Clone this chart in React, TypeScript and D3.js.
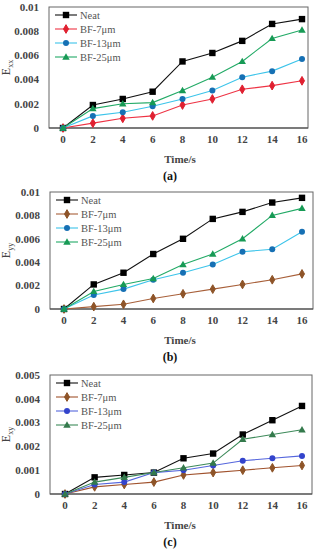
import React from "react";
import * as d3 from "d3";

const times = [0, 2, 4, 6, 8, 10, 12, 14, 16];
const seriesNames = ["Neat", "BF-7μm", "BF-13μm", "BF-25μm"];

const exxNeat = [0, 0.0019, 0.0024, 0.003, 0.0055, 0.0062, 0.0072, 0.0086, 0.009];
const exx7 = [0, 0.0004, 0.0008, 0.001, 0.0019, 0.0024, 0.0032, 0.0035, 0.0039];
const exx13 = [0, 0.001, 0.0013, 0.0018, 0.0024, 0.0031, 0.0042, 0.0047, 0.0057];
const exx25 = [0, 0.0016, 0.002, 0.0021, 0.0031, 0.0042, 0.0055, 0.0074, 0.0081];

const eyyNeat = [0, 0.0021, 0.0031, 0.0047, 0.006, 0.0077, 0.0083, 0.0091, 0.0095];
const eyy7 = [0, 0.0002, 0.0004, 0.0009, 0.0013, 0.0017, 0.0021, 0.0025, 0.003];
const eyy13 = [0, 0.0012, 0.0017, 0.0025, 0.0031, 0.0038, 0.0049, 0.0051, 0.0066];
const eyy25 = [0, 0.0015, 0.0021, 0.0026, 0.0038, 0.0047, 0.006, 0.008, 0.0086];

const exyNeat = [0, 0.0007, 0.0008, 0.0009, 0.0015, 0.0017, 0.0025, 0.0031, 0.0037];
const exy7 = [0, 0.0003, 0.0004, 0.0005, 0.0008, 0.0009, 0.001, 0.0011, 0.0012];
const exy13 = [0, 0.0004, 0.0005, 0.0009, 0.001, 0.0012, 0.0014, 0.0015, 0.0016];
const exy25 = [0, 0.0005, 0.0007, 0.0009, 0.0011, 0.0013, 0.0023, 0.0025, 0.0027];

const ticks01 = [0, 0.002, 0.004, 0.006, 0.008, 0.01];
const tickLabels01 = ["0", "0.002", "0.004", "0.006", "0.008", "0.01"];
const ticks005 = [0, 0.001, 0.002, 0.003, 0.004, 0.005];
const tickLabels005 = ["0", "0.001", "0.002", "0.003", "0.004", "0.005"];

const shapes = ["square", "diamond", "circle", "triangle"];

type PanelProps = {
  top: number; bottom: number; left: number; right: number;
  x0: number; x16: number; ymax: number;
  ticks: number[]; tickLabels: string[];
  data: number[][]; lineColors: string[]; markerColors: string[];
  sub: string; tag: string;
};

const serif = "Liberation Serif, Times New Roman, DejaVu Serif, serif";
const fs = (size: number, bold = false) => ({ fontFamily: serif, fontSize: size, fontWeight: bold ? 700 : 400 } as React.CSSProperties);

function Marker({ shape, x, y, color }: { shape: string; x: number; y: number; color: string }) {
  if (shape === "square") return <rect x={x - 3.2} y={y - 3.2} width={6.4} height={6.4} fill={color} />;
  if (shape === "diamond") return <path d={d3.symbol(d3.symbolDiamond, 22)()!} transform={`translate(${x},${y})`} fill={color} stroke={color} strokeWidth={1} strokeLinejoin="round" />;
  if (shape === "circle") return <circle cx={x} cy={y} r={3} fill={color} />;
  return <path d={d3.symbol(d3.symbolTriangle, 24)()!} transform={`translate(${x},${y + 0.5})`} fill={color} />;
}

function Panel(p: PanelProps) {
  const x = d3.scaleLinear().domain([0, 16]).range([p.x0, p.x16]);
  const y = d3.scaleLinear().domain([0, p.ymax]).range([p.bottom, p.top]);
  const line = d3.line<number>().x((_, i) => x(times[i])).y((d) => y(d));
  const midY = (p.top + p.bottom) / 2;
  return (
    <g>
      <rect x={p.left} y={p.top} width={p.right - p.left} height={p.bottom - p.top} fill="none" stroke="#666" strokeWidth={1} />
      <line x1={p.left} x2={p.right} y1={p.bottom} y2={p.bottom} stroke="#444" strokeWidth={1.2} />
      {p.ticks.map((t, i) => (
        <text key={i} x={p.left - 10} y={y(t)} dy="0.35em" textAnchor="end" style={fs(11, true)} fill="#444">{p.tickLabels[i]}</text>
      ))}
      {times.map((t) => (
        <text key={t} x={x(t)} y={p.bottom + 15} textAnchor="middle" style={fs(11, true)} fill="#444">{t}</text>
      ))}
      <text x={180} y={p.bottom + 35} textAnchor="middle" style={fs(11, true)} fill="#444">Time/s</text>
      <text x={170} y={p.bottom + 52} textAnchor="middle" style={fs(12, true)} fill="#111">{p.tag}</text>
      <text transform={`translate(10,${midY}) rotate(-90)`} textAnchor="middle" style={fs(12)} fill="#444">
        E<tspan style={fs(8)} dy={3}>{p.sub}</tspan>
      </text>
      {p.data.map((s, si) => (
        <g key={si}>
          <path d={line(s)!} fill="none" stroke={p.lineColors[si]} strokeWidth={1.1} />
          {s.map((v, i) => (
            <Marker key={i} shape={shapes[si]} x={x(times[i])} y={y(v)} color={p.markerColors[si]} />
          ))}
        </g>
      ))}
      {seriesNames.map((n, i) => {
        const ly = p.top + 8 + i * 14;
        return (
          <g key={n}>
            <line x1={p.left + 6} x2={p.left + 28} y1={ly} y2={ly} stroke={p.lineColors[i]} strokeWidth={1.1} />
            <Marker shape={shapes[i]} x={p.left + 17} y={ly} color={p.markerColors[i]} />
            <text x={p.left + 31} y={ly} dy="0.35em" style={fs(10.5)} fill="#555">{n}</text>
          </g>
        );
      })}
    </g>
  );
}

export default function App() {
  return (
    <svg width={324} height={550} style={{ position: "absolute", left: 0, top: 0, background: "#fff", fontFamily: serif }}>
      <Panel top={7} bottom={128} left={49} right={308} x0={63} x16={302} ymax={0.01}
        ticks={ticks01} tickLabels={tickLabels01}
        data={[exxNeat, exx7, exx13, exx25]}
        lineColors={["#111", "#ee3344", "#3cc4ea", "#22aa66"]}
        markerColors={["#000", "#e02030", "#1670b4", "#179a55"]}
        sub="xx" tag="(a)" />
      <Panel top={192} bottom={309} left={50} right={313} x0={64} x16={302} ymax={0.01}
        ticks={ticks01} tickLabels={tickLabels01}
        data={[eyyNeat, eyy7, eyy13, eyy25]}
        lineColors={["#111", "#a8603a", "#3cc4ea", "#22aa66"]}
        markerColors={["#000", "#8e5428", "#1670b4", "#179a55"]}
        sub="yy" tag="(b)" />
      <Panel top={375} bottom={494} left={50} right={312} x0={65} x16={302} ymax={0.005}
        ticks={ticks005} tickLabels={tickLabels005}
        data={[exyNeat, exy7, exy13, exy25]}
        lineColors={["#111", "#a0522d", "#5566dd", "#3d8a5a"]}
        markerColors={["#000", "#8e5428", "#3344cc", "#347a4c"]}
        sub="xy" tag="(c)" />
    </svg>
  );
}
